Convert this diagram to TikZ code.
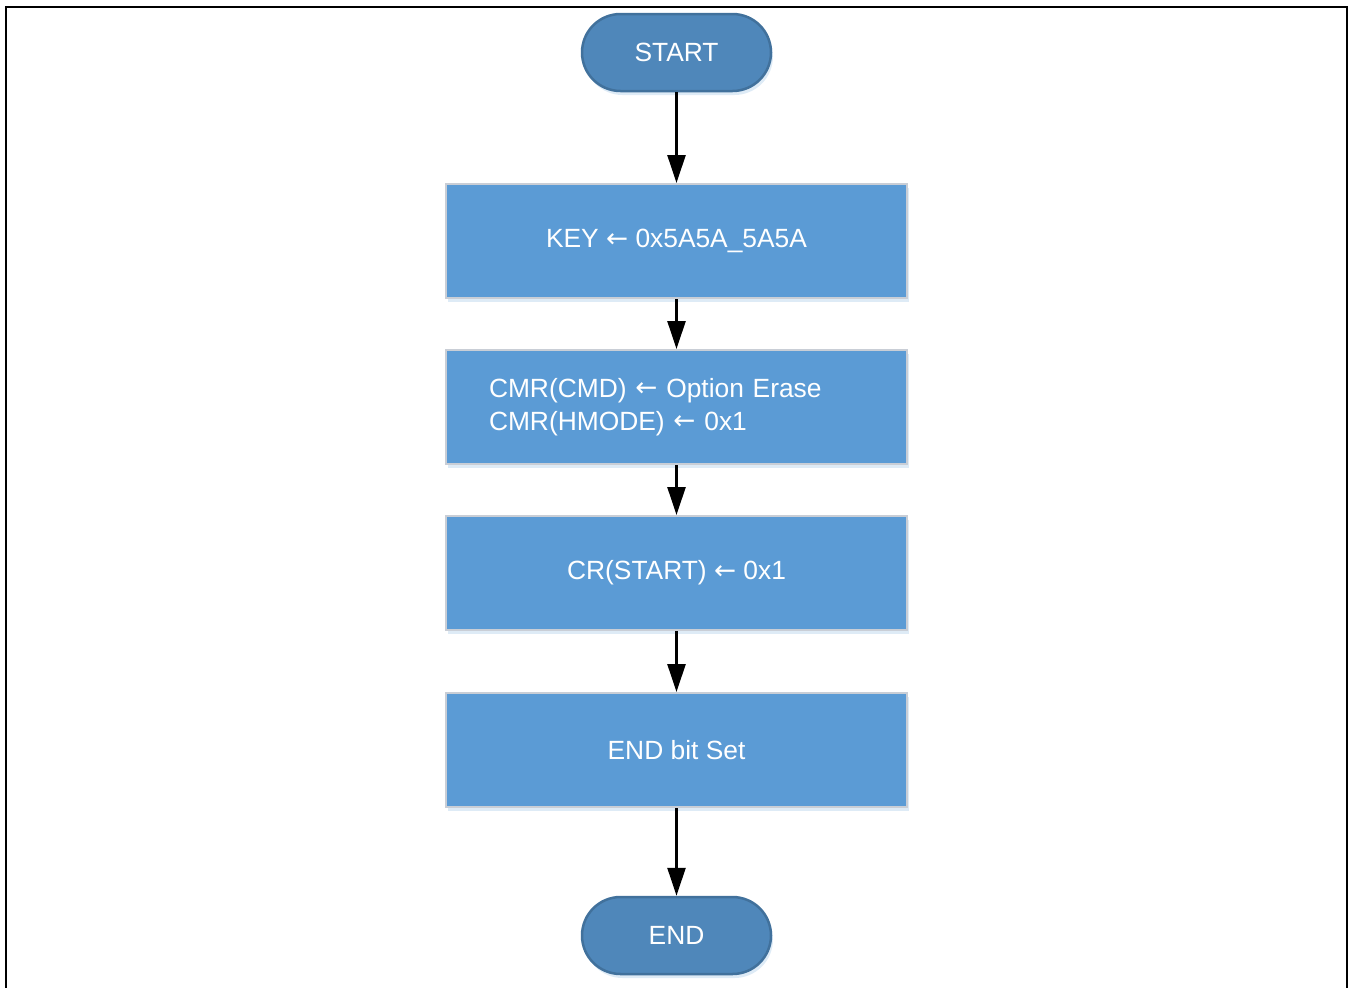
\documentclass[tikz,border=0pt]{standalone}
\usepackage{fontspec}
\setmainfont{Liberation Sans}
\newfontfamily\arrowfont{DejaVu Sans}
\usepackage{tikz}
\usepackage{xcolor}
\usetikzlibrary{arrows.meta,shadows}

\definecolor{termfill}{HTML}{4F87BA}
\definecolor{termdraw}{HTML}{41719C}
\definecolor{boxfill}{HTML}{5B9BD5}
\definecolor{boxdraw}{HTML}{C9CED6}

\newcommand{\getsarrow}{{\arrowfont\raisebox{0.02em}{←}}}

\tikzset{
	terminal/.style={draw=termdraw, fill=termfill, line width=0.5mm, rounded corners=0.77cm,
		minimum width=3.78cm, minimum height=1.54cm, text=white,
		drop shadow={shadow xshift=0.04cm, shadow yshift=-0.08cm, fill=boxfill!40, opacity=0.5}},
	opbox/.style={draw=boxdraw, fill=boxfill, line width=0.4mm,
		minimum width=9.22cm, minimum height=2.28cm, text=white,
		drop shadow={shadow xshift=0.04cm, shadow yshift=-0.08cm, fill=boxfill!40, opacity=0.5}},
	flow/.style={-{Triangle[length=0.56cm,width=0.36cm]}, line width=0.5mm}
}

\begin{document}
\begin{tikzpicture}
	\fontsize{15}{18.8}\selectfont
	\useasboundingbox (0,0) rectangle (27.1,-19.74);
	\draw [line width=0.4mm] (0.12,-19.9)--(0.12,-0.14)--(26.94,-0.14)--(26.94,-19.9);
	\node [terminal] (start) at (13.53,-1.05) {START};
	\node [opbox] (key) at (13.53,-4.82) {KEY \getsarrow\ 0x5A5A\_5A5A};
	\node [opbox, align=left, text width=7.5cm, inner xsep=0.86cm] (cmr) at (13.53,-8.14) {CMR(CMD) \getsarrow\ Option Erase\\CMR(HMODE) \getsarrow\ 0x1};
	\node [opbox] (cr) at (13.53,-11.46) {CR(START) \getsarrow\ 0x1};
	\node [opbox] (endbit) at (13.53,-15.0) {END bit Set};
	\node [terminal] (stop) at (13.53,-18.71) {END};
	\draw [flow] (start) -- (key);
	\draw [flow] (key) -- (cmr);
	\draw [flow] (cmr) -- (cr);
	\draw [flow] (cr) -- (endbit);
	\draw [flow] (endbit) -- (stop);
\end{tikzpicture}
\end{document}
